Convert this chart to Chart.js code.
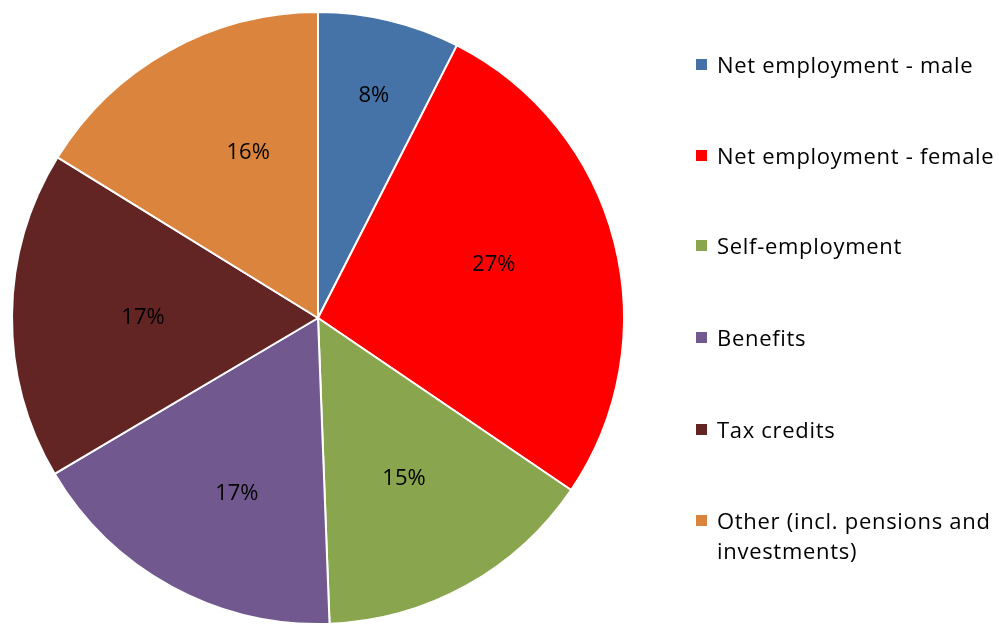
<!DOCTYPE html>
<html>
<head>
<meta charset="utf-8">
<script src="https://cdn.jsdelivr.net/npm/chart.js@4"></script>
<style>
  html, body { margin: 0; padding: 0; background: #fff; }
  #wrap { position: relative; width: 999px; height: 625px; }
  #legend { position: absolute; left: 696px; top: 0; font-family: "Open Sans", Lato, sans-serif; font-size: 22px; letter-spacing: 0.7px; color: #000; }
  .item { position: absolute; left: 0; white-space: nowrap; line-height: 30px; }
  .sw { position: absolute; left: 0; top: 10px; width: 11px; height: 11px; }
  .txt { position: absolute; left: 21px; top: 0; }
</style>
</head>
<body>
<div id="wrap">
  <canvas id="c" width="999" height="625"></canvas>
  <div id="legend"></div>
</div>
<script>
const categories = ["Net employment - male", "Net employment - female", "Self-employment", "Benefits", "Tax credits", "Other (incl. pensions and investments)"];
const legendLines = [["Net employment - male"], ["Net employment - female"], ["Self-employment"], ["Benefits"], ["Tax credits"], ["Other (incl. pensions and", "investments)"]];
const shares = [7.5, 27.0, 14.9, 17.1, 17.3, 16.2];
const colors = ["#4572A7", "#FF0000", "#89A54E", "#71588F", "#632523", "#DB843D"];

const labelPlugin = {
  id: 'pctLabels',
  afterDatasetsDraw(chart, args, opts) {
    const ctx = chart.ctx;
    const meta = chart.getDatasetMeta(0);
    const total = shares.reduce((a, b) => a + b, 0);
    ctx.save();
    ctx.font = '22px "Open Sans", Lato, sans-serif';
    ctx.fillStyle = '#000';
    ctx.textAlign = 'center';
    ctx.textBaseline = 'middle';
    meta.data.forEach((arc, i) => {
      const p = arc.getProps(['x', 'y', 'startAngle', 'endAngle', 'outerRadius'], true);
      const mid = (p.startAngle + p.endAngle) / 2 + opts.angleOffsetDeg[i] * Math.PI / 180;
      const r = p.outerRadius * opts.radiusFrac[i];
      const x = p.x + Math.cos(mid) * r;
      const y = p.y + Math.sin(mid) * r;
      ctx.fillText(Math.round(shares[i] / total * 100) + '%', x, y);
    });
    ctx.restore();
  }
};

new Chart(document.getElementById('c'), {
  type: 'pie',
  data: {
    labels: categories,
    datasets: [{
      data: shares,
      backgroundColor: colors,
      borderColor: '#ffffff',
      borderWidth: 2
    }]
  },
  options: {
    responsive: false,
    animation: false,
    radius: 306,
    layout: { padding: { left: 12, top: 12, right: 375, bottom: 1 } },
    plugins: {
      legend: { display: false },
      tooltip: { enabled: false },
      pctLabels: {
        radiusFrac: [0.75, 0.60, 0.595, 0.634, 0.572, 0.585],
        angleOffsetDeg: [0.6, -2.4, 0.8, -3.9, -0.4, 6.2]
      }
    }
  },
  plugins: [labelPlugin]
});

const legendTops = [49, 140, 230, 322, 414, 505];
const lg = document.getElementById('legend');
legendLines.forEach((lines, i) => {
  const it = document.createElement('div');
  it.className = 'item';
  it.style.top = legendTops[i] + 'px';
  const sw = document.createElement('div');
  sw.className = 'sw';
  sw.style.background = colors[i];
  const t = document.createElement('div');
  t.className = 'txt';
  t.innerHTML = lines.join('<br>');
  it.appendChild(sw);
  it.appendChild(t);
  lg.appendChild(it);
});
</script>
</body>
</html>
